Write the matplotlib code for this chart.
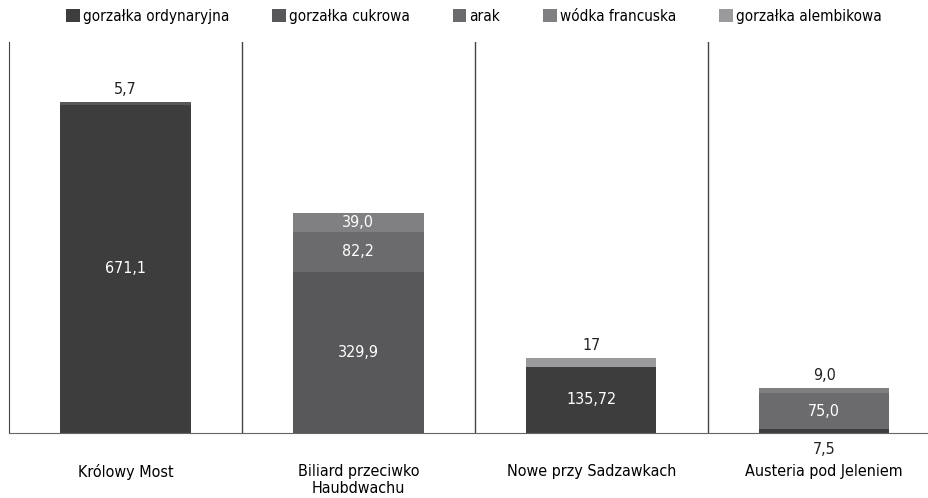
import numpy as np
import matplotlib
matplotlib.use("Agg")
import matplotlib.pyplot as plt

plt.rcParams['font.family'] = ['DejaVu Sans']
plt.rcParams['font.stretch'] = 'condensed'

# data
places = ["Królowy Most", "Biliard przeciwko\nHaubdwachu", "Nowe przy Sadzawkach", "Austeria pod Jeleniem"]
series_names = ["gorzałka ordynaryjna", "gorzałka cukrowa", "arak", "wódka francuska", "gorzałka alembikowa"]
ordynaryjna = [671.1, 0, 135.72, 7.5]
cukrowa = [5.7, 329.9, 0, 0]
arak = [0, 82.2, 0, 75.0]
wodka = [0, 39.0, 0, 9.0]
alembikowa = [0, 0, 17, 0]
# printed labels as they appear (mixed decimals)
ordynaryjna_lbl = ["671,1", "", "135,72", "7,5"]
cukrowa_lbl = ["5,7", "329,9", "", ""]
arak_lbl = ["", "82,2", "", "75,0"]
wodka_lbl = ["", "39,0", "", "9,0"]
alembikowa_lbl = ["", "", "17", ""]

colors = ["#3d3d3d", "#58585a", "#6b6b6d", "#808082", "#9a9a9c"]
series = [ordynaryjna, cukrowa, arak, wodka, alembikowa]
labels = [ordynaryjna_lbl, cukrowa_lbl, arak_lbl, wodka_lbl, alembikowa_lbl]

fig = plt.figure(figsize=(9.29, 4.98), dpi=100)
ax = fig.add_axes([9/929, 65/498, 1 - 9/929, 391/498])

x = np.arange(len(places))
bottom = np.zeros(len(places))
width = 0.56
for i in range(len(series)):
    vals = np.array(series[i])
    ax.bar(x, vals, width, bottom=bottom, color=colors[i], label=series_names[i],
           edgecolor="none", zorder=2)
    for j in range(len(places)):
        if labels[i][j] == "":
            continue
        h = vals[j]
        if h < 20:
            # thin slices: label outside the bar
            if bottom[j] == 0 and vals[j] > 0 and sum(s[j] for s in series) > h:
                ax.annotate(labels[i][j], (x[j], 0), xytext=(0, -12), textcoords="offset points",
                            ha="center", va="center", fontsize=11.5, color="#222222")
            else:
                ax.annotate(labels[i][j], (x[j], bottom[j] + h), xytext=(0, 9), textcoords="offset points",
                            ha="center", va="center", fontsize=11.5, color="#222222")
        else:
            ax.text(x[j], bottom[j] + h / 2, labels[i][j], ha="center", va="center",
                    fontsize=11.5, color="white", zorder=3)
    bottom = bottom + vals

for sep in [0.5, 1.5, 2.5]:
    ax.axvline(sep, color="#444444", lw=1, zorder=1)

ax.set_xlim(-0.5, 3.45)
ax.set_ylim(0, 800)
ax.set_yticks([])
ax.set_xticks(x)
ax.set_xticklabels(places, fontsize=11.5)
ax.tick_params(axis="x", length=0, pad=22)
ax.spines["top"].set_visible(False)
ax.spines["right"].set_visible(False)
ax.spines["left"].set_color("#444444")
ax.spines["bottom"].set_color("#666666")

fig.legend(loc="upper center", bbox_to_anchor=(0.51, 1.01), ncol=5, frameon=False,
           fontsize=11, handlelength=0.9, handleheight=0.9, handletextpad=0.2,
           columnspacing=2.8)

fig.savefig("out.png", dpi=100)
